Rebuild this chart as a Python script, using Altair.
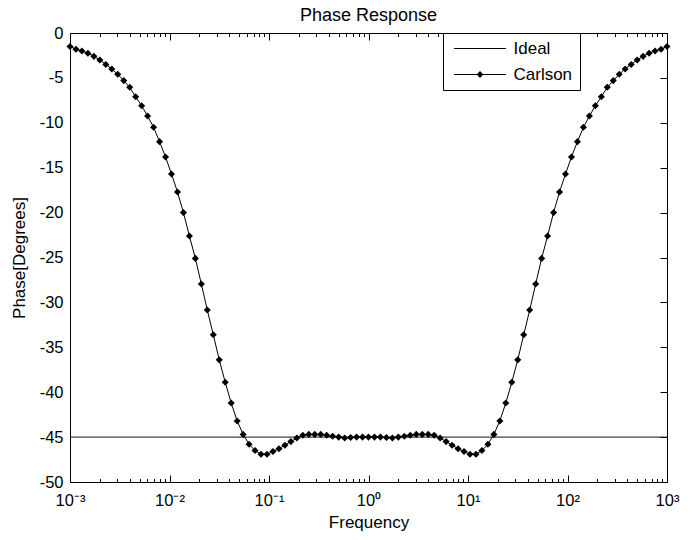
import altair as alt
import pandas as pd

# ---------------- data ----------------
# log10 of frequency at each Carlson sample
freq_exp = [
    -3.00, -2.94, -2.88, -2.82, -2.76, -2.70, -2.64, -2.58, -2.52, -2.46,
    -2.40, -2.34, -2.28, -2.22, -2.16, -2.10, -2.04, -1.98, -1.92, -1.86,
    -1.80, -1.74, -1.68, -1.62, -1.56, -1.50, -1.44, -1.38, -1.32, -1.26,
    -1.20, -1.14, -1.08, -1.02, -0.96, -0.90, -0.84, -0.78, -0.72, -0.66,
    -0.60, -0.54, -0.48, -0.42, -0.36, -0.30, -0.24, -0.18, -0.12, -0.06,
    0.00,
    0.06, 0.12, 0.18, 0.24, 0.30, 0.36, 0.42, 0.48, 0.54, 0.60,
    0.66, 0.72, 0.78, 0.84, 0.90, 0.96, 1.02, 1.08, 1.14, 1.20,
    1.26, 1.32, 1.38, 1.44, 1.50, 1.56, 1.62, 1.68, 1.74, 1.80,
    1.86, 1.92, 1.98, 2.04, 2.10, 2.16, 2.22, 2.28, 2.34, 2.40,
    2.46, 2.52, 2.58, 2.64, 2.70, 2.76, 2.82, 2.88, 2.94, 3.00,
]
carlson_phase = [
    -1.5, -1.8, -2.0, -2.25, -2.6, -3.0, -3.5, -4.0, -4.6, -5.3,
    -6.05, -7.1, -8.1, -9.25, -10.5, -12.1, -13.8, -15.7, -17.7, -20.0,
    -22.6, -25.1, -27.95, -30.85, -33.6, -36.4, -38.9, -41.2, -43.2, -44.7,
    -45.8, -46.5, -46.9, -46.9, -46.6, -46.3, -45.9, -45.5, -45.1, -44.8,
    -44.7, -44.7, -44.7, -44.8, -44.9, -45.0, -45.1, -45.05, -45.0, -45.0,
    -45.0,
    -45.0, -45.0, -45.05, -45.1, -45.0, -44.9, -44.8, -44.7, -44.7, -44.7,
    -44.8, -45.1, -45.5, -45.9, -46.3, -46.6, -46.9, -46.9, -46.5, -45.8,
    -44.7, -43.2, -41.2, -38.9, -36.4, -33.6, -30.85, -27.95, -25.1, -22.6,
    -20.0, -17.7, -15.7, -13.8, -12.1, -10.5, -9.25, -8.1, -7.1, -6.05,
    -5.3, -4.6, -4.0, -3.5, -3.0, -2.6, -2.25, -2.0, -1.8, -1.5,
]
ideal_freq = [0.001, 1000.0]
ideal_phase = [-45.0, -45.0]
series_names = ["Ideal", "Carlson"]

x_major = [0.001, 0.01, 0.1, 1.0, 10.0, 100.0, 1000.0]
x_tick_labels = ["10⁻³", "10⁻²", "10⁻¹", "10⁰", "10¹", "10²", "10³"]
y_ticks = [0, -5, -10, -15, -20, -25, -30, -35, -40, -45, -50]

title_text = "Phase Response"
x_title = "Frequency"
y_title = "Phase[Degrees]"

# ---------------- layout ----------------
W, H = 597, 449
FONT = "Liberation Sans"

x_all_ticks = [m * 10.0 ** e for e in range(-3, 3) for m in range(1, 10)] + [1000.0]

carlson_df = pd.DataFrame({
    "freq": [10.0 ** e for e in freq_exp],
    "phase": carlson_phase,
})
ideal_df = pd.DataFrame({"freq": ideal_freq, "phase": ideal_phase})
legend_df = pd.DataFrame({"series": series_names})

xscale = alt.Scale(type="log", domain=[0.001, 1000.0], nice=False)
yscale = alt.Scale(domain=[-50, 0], nice=False, zero=False)

label_expr = "[" + ",".join("'" + s + "'" for s in x_tick_labels) + "][round(log(datum.value)/LN10)+3]"
major_test = "abs(log(datum.value)/LN10 - round(log(datum.value)/LN10)) < 0.001"

# legend keys: a thin bar (line sample) and, for Carlson, a diamond on it
IDEAL_PATH = "M-3.25,-0.0625H3.25V0.0625H-3.25Z"
CARLSON_PATH = IDEAL_PATH + "M0,-0.45L0.42,0L0,0.45L-0.42,0Z"

legend = alt.Legend(
    title=None, orient="none", legendX=373, legendY=0, direction="vertical",
    fillColor="white", strokeColor="black", padding=7, cornerRadius=0,
    labelFont=FONT, labelFontSize=17, labelColor="black",
    labelOffset=25, symbolOffset=21.5, rowPadding=8,
    symbolSize=256, symbolStrokeWidth=0,
    symbolFillColor="black", symbolOpacity=1,
)

x_label_axis = alt.Axis(
    orient="bottom", values=x_major, labelExpr=label_expr, ticks=False, tickSize=0,
    domain=False, grid=False, labelPadding=10, labelFont=FONT, labelFontSize=16.5,
    labelColor="black", labelOverlap=False, labelFlush=False, labelBound=False,
    title=x_title, titleFont=FONT, titleFontSize=17, titleFontWeight="normal",
    titleColor="black", titlePadding=6,
)
y_label_axis = alt.Axis(
    orient="left", values=y_ticks, labelExpr="datum.value + ''", ticks=False, tickSize=0,
    domain=False, grid=False, labelPadding=7, labelFont=FONT, labelFontSize=16.5,
    labelColor="black", labelOverlap=False, labelFlush=False, labelBound=False,
    title=y_title, titleFont=FONT, titleFontSize=17, titleFontWeight="normal",
    titleColor="black", titlePadding=11,
)
x_tick_size = {"condition": {"test": major_test, "value": 7}, "value": 3.5}
# inward ticks: axes flipped to the opposite edge with a negative offset
x_bottom_ticks = alt.Axis(
    orient="top", offset=-H, values=x_all_ticks, labels=False, domain=False,
    grid=False, title=None, tickSize=x_tick_size, tickColor="black", tickWidth=1,
)
x_top_ticks = alt.Axis(
    orient="bottom", offset=-H, values=x_all_ticks, labels=False, domain=False,
    grid=False, title=None, tickSize=x_tick_size, tickColor="black", tickWidth=1,
)
y_right_ticks = alt.Axis(
    orient="left", offset=-W, values=y_ticks, labels=False, domain=False,
    grid=False, title=None, tickSize=7, tickColor="black", tickWidth=1,
)

ideal = alt.Chart(ideal_df).mark_line(strokeWidth=1, color="#111111").encode(
    x=alt.X("freq:Q", scale=xscale, axis=x_label_axis),
    y=alt.Y("phase:Q", scale=yscale, axis=y_label_axis),
)
carlson_line = alt.Chart(carlson_df).mark_line(strokeWidth=1, color="black").encode(
    x=alt.X("freq:Q", scale=xscale, axis=x_bottom_ticks),
    y=alt.Y("phase:Q", scale=yscale, axis=y_right_ticks),
)
carlson_pts = alt.Chart(carlson_df).mark_point(
    shape="diamond", filled=True, size=50, color="black", opacity=1
).encode(
    x=alt.X("freq:Q", scale=xscale, axis=x_top_ticks),
    y=alt.Y("phase:Q", scale=yscale, axis=None),
)
# legend carrier: keys drawn off-view and clipped, only the legend shows them
legend_keys = alt.Chart(legend_df).mark_point(
    filled=True, fill="black", size=256, opacity=1, clip=True,
).encode(
    x=alt.value(-200),
    y=alt.value(-200),
    shape=alt.Shape("series:N", scale=alt.Scale(domain=series_names,
                    range=[IDEAL_PATH, CARLSON_PATH]), legend=legend),
)

chart = alt.layer(ideal, carlson_line, carlson_pts, legend_keys).resolve_axis(
    x="independent", y="independent"
).properties(
    width=W, height=H,
    title=alt.TitleParams(title_text, frame="group", anchor="middle", font=FONT,
                          fontSize=18, fontWeight="normal", color="black", offset=0),
    autosize=alt.AutoSizeParams(type="none"),
    padding={"left": 62, "top": 25, "right": 15, "bottom": 50},
    background="white",
).configure_view(stroke="black", strokeWidth=1)

chart.save("out.html", embed_options={"renderer": "svg", "actions": False})
